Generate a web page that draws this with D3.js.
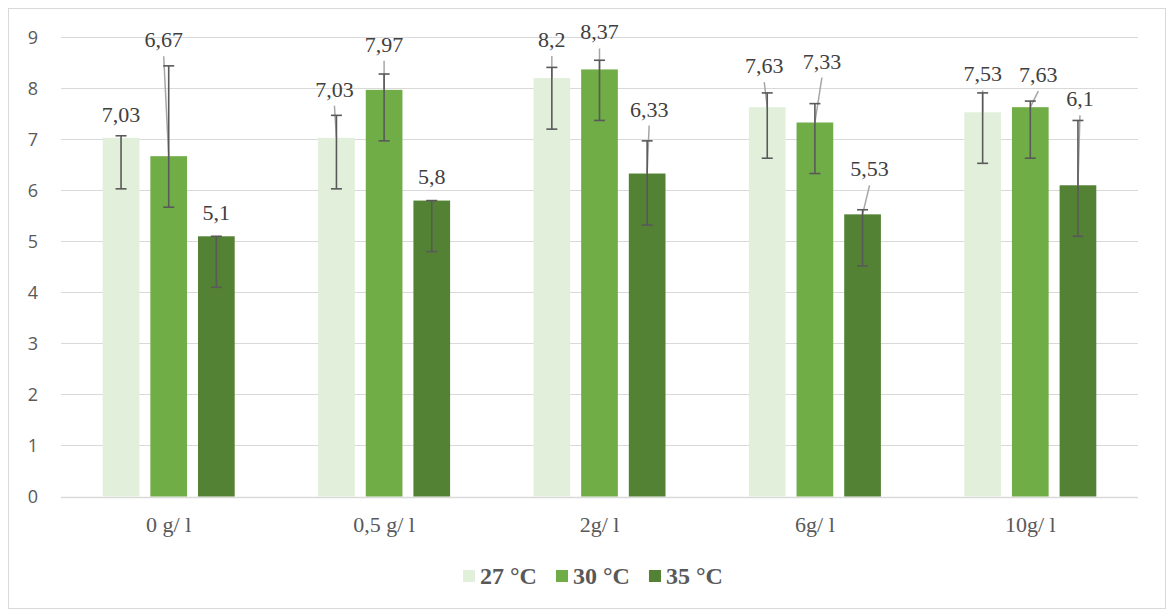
<!DOCTYPE html>
<html><head><meta charset="utf-8">
<script src="https://cdn.jsdelivr.net/npm/d3@7"></script>
<style>body{margin:0;background:#fff}svg{display:block}</style>
</head><body><svg id="c" width="1168" height="610"></svg>
<script>
const categories = ["0 g/ l", "0,5 g/ l", "2g/ l", "6g/ l", "10g/ l"];
const series = ["27 °C", "30 °C", "35 °C"];
const values27 = [7.03, 7.03, 8.2, 7.63, 7.53];
const values30 = [6.67, 7.97, 8.37, 7.33, 7.63];
const values35 = [5.1, 5.8, 6.33, 5.53, 6.1];
// error bar ends (lower, upper)
const errLow27 = [6.03, 6.03, 7.2, 6.63, 6.53];
const errHigh27 = [7.07, 7.47, 8.41, 7.91, 7.91];
const errLow30 = [5.67, 6.97, 7.37, 6.33, 6.63];
const errHigh30 = [8.44, 8.28, 8.55, 7.7, 7.75];
const errLow35 = [4.1, 4.8, 5.32, 4.52, 5.1];
const errHigh35 = [5.1, 5.8, 6.97, 5.62, 7.37];
const yTicks = [0, 1, 2, 3, 4, 5, 6, 7, 8, 9];

// label placement (layout only): [dx, dy of baseline from bar top]
const labelOffsets = [
  [[0,-16],[-5,-109],[0,-16]],
  [[-2,-41],[0,-38],[0,-17]],
  [[0,-31],[0,-30],[2,-57]],
  [[-3,-34],[7,-54],[7,-38]],
  [[0,-31],[8,-25],[2,-79]]
];
const colors = ["#E2EFDA", "#70AD47", "#548235"];

const vals = [values27, values30, values35];
const lows = [errLow27, errLow30, errLow35];
const highs = [errHigh27, errHigh30, errHigh35];

(function(){
const svg = d3.select("#c");
svg.append("rect").attr("x",8.5).attr("y",8.5).attr("width",1157).attr("height",600)
  .attr("fill","#fff").attr("stroke","#d9d9d9").attr("stroke-width",1);

const pLeft = 61, pRight = 1138, pTop = 37.3, pBottom = 496.5;
const x = d3.scaleBand().domain(categories).range([pLeft, pRight]).padding(0);
const y = d3.scaleLinear().domain([0, 9]).range([pBottom, pTop]);
const bw = x.bandwidth();
const inner = d3.scaleBand().domain(series).range([bw/2 - 66, bw/2 + 66]).paddingInner(0.23).paddingOuter(0);

// gridlines
svg.append("g").selectAll("line").data(yTicks).join("line")
  .attr("x1", pLeft).attr("x2", pRight)
  .attr("y1", d => Math.round(y(d)) + 0.5).attr("y2", d => Math.round(y(d)) + 0.5)
  .attr("stroke", "#d9d9d9").attr("stroke-width", d => d === 0 ? 1.5 : 1);

// y axis labels
const yAxis = d3.axisLeft(y).tickValues(yTicks).tickSize(0).tickPadding(0).tickFormat(d3.format("d"));
const ya = svg.append("g").attr("transform", `translate(${pLeft - 28},0)`).call(yAxis);
ya.select(".domain").remove();
ya.selectAll("text").style("font-family", "'Open Sans', 'Noto Sans', sans-serif")
  .style("font-size", "18px").attr("fill", "#595959").attr("text-anchor", "middle").attr("dy", "0.35em");

// x axis labels
const xAxis = d3.axisBottom(x).tickSize(0).tickPadding(0);
const xa = svg.append("g").attr("transform", `translate(0,${pBottom + 28})`).call(xAxis);
xa.select(".domain").remove();
xa.selectAll("text").style("font-family", "'Liberation Serif', 'Times New Roman', serif")
  .style("font-size", "22px").attr("fill", "#595959").attr("dy", "0.35em");

// bars
const rows = [];
categories.forEach((c, i) => series.forEach((s, j) => rows.push({c, s, i, j, v: vals[j][i], lo: lows[j][i], hi: highs[j][i]})));
const cx = d => x(d.c) + inner(d.s) + inner.bandwidth()/2;

svg.append("g").selectAll("rect").data(rows).join("rect")
  .attr("x", d => x(d.c) + inner(d.s)).attr("width", inner.bandwidth())
  .attr("y", d => y(d.v)).attr("height", d => y(0) - y(d.v))
  .attr("fill", d => colors[d.j]);

// leader lines
svg.append("g").selectAll("line").data(rows.filter(d => labelOffsets[d.i][d.j][1] < -20)).join("line")
  .attr("x1", d => cx(d) + labelOffsets[d.i][d.j][0]).attr("y1", d => y(d.v) + labelOffsets[d.i][d.j][1] + 9)
  .attr("x2", d => cx(d)).attr("y2", d => y(d.v))
  .attr("stroke", "#a6a6a6").attr("stroke-width", 1.5);

// error bars
const eg = svg.append("g").attr("stroke", "#595959").attr("stroke-width", 1.6);
rows.forEach(d => {
  const X = cx(d);
  eg.append("line").attr("x1", X).attr("x2", X).attr("y1", y(d.lo)).attr("y2", y(d.hi));
  eg.append("line").attr("x1", X-5.5).attr("x2", X+5.5).attr("y1", y(d.lo)).attr("y2", y(d.lo));
  eg.append("line").attr("x1", X-5.5).attr("x2", X+5.5).attr("y1", y(d.hi)).attr("y2", y(d.hi));
});

// data labels
svg.append("g").selectAll("text").data(rows).join("text")
  .attr("x", d => cx(d) + labelOffsets[d.i][d.j][0])
  .attr("y", d => y(d.v) + labelOffsets[d.i][d.j][1])
  .attr("text-anchor", "middle")
  .style("font-family", "'Liberation Serif', 'Times New Roman', serif")
  .style("font-size", "22px").attr("fill", "#404040")
  .text(d => String(d.v).replace(".", ","));

// legend
const legX = [463, 556, 649];
const lg = svg.append("g").selectAll("g").data(series).join("g")
  .attr("transform", (d, i) => `translate(${legX[i]},570)`);
lg.append("rect").attr("width", 12).attr("height", 12).attr("fill", (d, i) => colors[i]);
lg.append("text").attr("x", 17).attr("y", 13.5)
  .style("font-family", "'Liberation Serif', 'Times New Roman', serif")
  .style("font-weight", "bold").style("font-size", "24px").attr("fill", "#595959").text(d => d);
})();
</script></body></html>
